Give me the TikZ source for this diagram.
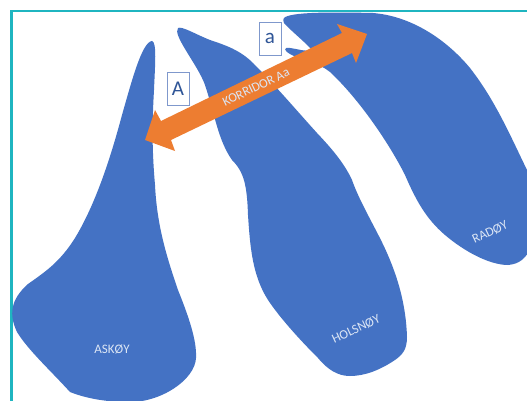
\documentclass[tikz,border=0pt]{standalone}
\usepackage{fontspec}
\setmainfont{Carlito}
\definecolor{isl}{HTML}{4472C4}
\definecolor{arr}{HTML}{ED7D31}
\definecolor{frm}{HTML}{1FB5C0}
\definecolor{boxb}{HTML}{7F98CC}
\definecolor{boxt}{HTML}{2F5597}
\definecolor{lab}{HTML}{DCE6F5}
\tikzset{
  letterbox/.style={draw=boxb,line width=0.9pt,fill=white,text=boxt,minimum width=22pt,minimum height=33pt,inner sep=0pt,font=\fontsize{21}{21}\selectfont},
  islandlabel/.style={text=lab,inner sep=0pt,font=\fontsize{13}{14}\selectfont}
}
\begin{document}
\begin{tikzpicture}[x=1pt,y=-1pt]
\useasboundingbox (0,0) rectangle (527,401);
\fill[white] (0,0) rectangle (527,401);
\draw[frm,line width=2.2pt] (11.5,401) -- (11.5,11) -- (527,11);
\begin{scope}
\clip (0,0) rectangle (527,401);
% Askoy
\fill[isl] (152,41) .. controls (157,42) and (155,65) .. (154,90)
  .. controls (152,125) and (152,150) .. (155,185)
  .. controls (157,225) and (166,255) .. (178,290)
  .. controls (188,315) and (197,340) .. (196,358)
  .. controls (195,380) and (160,403) .. (128,402)
  .. controls (105,402) and (85,398) .. (70,392)
  .. controls (50,370) and (28,350) .. (17,332)
  .. controls (9,315) and (10,300) .. (28,284)
  .. controls (45,272) and (60,262) .. (75,238)
  .. controls (95,205) and (110,160) .. (122,115)
  .. controls (132,80) and (142,42) .. (152,41) -- cycle;
% Holsnoy
\fill[isl] (178,28) .. controls (182,26) and (195,34) .. (210,40)
  .. controls (225,45) and (240,50) .. (253,63)
  .. controls (275,85) and (298,112) .. (317,133)
  .. controls (335,152) and (345,165) .. (352,180)
  .. controls (360,203) and (378,232) .. (387,253)
  .. controls (398,278) and (406,305) .. (407,337)
  .. controls (407,350) and (402,355) .. (395,360)
  .. controls (380,370) and (365,376) .. (350,376)
  .. controls (338,376) and (328,370) .. (318,358)
  .. controls (300,340) and (280,318) .. (268,300)
  .. controls (252,275) and (250,245) .. (248,215)
  .. controls (247,185) and (244,172) .. (232,160)
  .. controls (218,140) and (215,115) .. (205,85)
  .. controls (198,65) and (172,35) .. (178,28) -- cycle;
% Radoy
\fill[isl] (284,18) .. controls (290,12) and (330,12) .. (373,13)
  .. controls (410,16) and (445,38) .. (470,68)
  .. controls (495,100) and (510,135) .. (527,170)
  -- (530,250)
  .. controls (525,258) and (520,264) .. (508,265)
  .. controls (490,265) and (465,252) .. (445,235)
  .. controls (425,218) and (415,198) .. (405,175)
  .. controls (390,145) and (360,100) .. (330,72)
  .. controls (318,62) and (300,60) .. (290,54)
  .. controls (283,50) and (284,47) .. (290,48)
  .. controls (298,49) and (305,52) .. (312,50)
  .. controls (305,42) and (290,30) .. (284,23)
  .. controls (283,21) and (283,19) .. (284,18) -- cycle;
\end{scope}
% Arrow
\fill[arr] (145,140) -- (155,110) -- (161,121) -- (342,33) -- (337,24) -- (367,34) -- (356,63) -- (352,53) -- (171,140) -- (175,151) -- cycle;
\node[rotate=25.5,islandlabel] (corridor) at (256,87) {KORRIDOR Aa};
\node[letterbox] (boxA) at (178,88.5) {A};
\node[letterbox] (boxa) at (270,38.5) {a};
\node[islandlabel] (askoy) at (112,349) {ASKØY};
\node[islandlabel,rotate=25] (holsnoy) at (356,329) {HOLSNØY};
\node[islandlabel,rotate=25] (radoy) at (490,232) {RADØY};
\end{tikzpicture}
\end{document}
